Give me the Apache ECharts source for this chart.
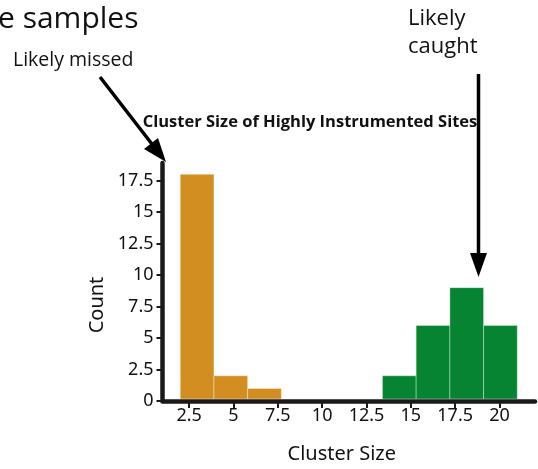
<!DOCTYPE html>
<html><head><meta charset="utf-8">
<script src="https://cdn.jsdelivr.net/npm/echarts@6/dist/echarts.min.js"></script>
<style>html,body{margin:0;padding:0;background:#fff}#c{width:538px;height:469px}</style>
</head><body><div id="c"></div>
<script>
const binStart = [2, 3.9, 5.8, 7.7, 9.6, 11.5, 13.4, 15.3, 17.2, 19.1];
const binEnd   = [3.9, 5.8, 7.7, 9.6, 11.5, 13.4, 15.3, 17.2, 19.1, 21];
const counts   = [18, 2, 1, 0, 0, 0, 2, 6, 9, 6];
const groups   = ['missed','missed','missed','missed','missed','missed','caught','caught','caught','caught'];
const xTicks = [2.5, 5, 7.5, 10, 12.5, 15, 17.5, 20];
const yTicks = [0, 2.5, 5, 7.5, 10, 12.5, 15, 17.5];
const groupColor = {missed: '#D38E22', caught: '#078431'};

const data = binStart.map((s, i) => [s, binEnd[i], counts[i], groups[i]]);
const chart = echarts.init(document.getElementById('c'), null, {renderer: 'canvas'});
const axisCol = '#1a1a1a';
const font = 'Noto Sans';
chart.setOption({
  animation: false,
  grid: {left: 162.5, right: 3, top: 163, bottom: 65, containLabel: false},
  title: {
    text: 'Cluster Size of Highly Instrumented Sites',
    left: 305, top: 109, textAlign: 'center',
    textStyle: {fontFamily: 'Open Sans', fontWeight: 'bold', fontSize: 16.5, color: '#111'}
  },
  xAxis: {
    type: 'value', min: 1, max: 22, z: 5,
    axisLine: {show: true, lineStyle: {color: axisCol, width: 4.5}},
    axisTick: {show: true, customValues: xTicks, length: 7, lineStyle: {color: axisCol, width: 2}},
    axisLabel: {customValues: xTicks, margin: 6, fontFamily: font, fontSize: 18, color: '#111'},
    splitLine: {show: false},
    name: 'Cluster Size', nameLocation: 'middle', nameGap: 43,
    nameTextStyle: {fontFamily: font, fontSize: 20, color: '#111', padding: [0, 14, 0, 0]}
  },
  yAxis: {
    type: 'value', min: 0, max: 18.9, z: 5,
    axisLine: {show: true, lineStyle: {color: axisCol, width: 4.5}},
    axisTick: {show: true, customValues: yTicks, length: 6, lineStyle: {color: axisCol, width: 2}},
    axisLabel: {customValues: yTicks, margin: 9, fontFamily: font, fontSize: 18, color: '#111'},
    splitLine: {show: false}
  },
  series: [{
    type: 'custom',
    z: 2,
    data: data,
    encode: {x: [0, 1], y: 2},
    renderItem: function (params, api) {
      if (api.value(2) <= 0) return null;
      const p0 = api.coord([api.value(0), api.value(2)]);
      const p1 = api.coord([api.value(1), 0]);
      const g = data[params.dataIndex][3];
      return {
        type: 'rect',
        shape: {x: p0[0], y: p0[1], width: p1[0] - p0[0], height: p1[1] - p0[1] - 2},
        style: {fill: groupColor[g], stroke: 'rgba(255,255,255,0.35)', lineWidth: 1}
      };
    }
  }],
  graphic: [
    {type: 'text', position: [-2, 4], style: {text: 'e samples', font: '30px "Open Sans"', fill: '#111'}},
    {type: 'text', position: [13, 50], style: {text: 'Likely missed', font: '19.5px "Open Sans"', fill: '#111'}},
    {type: 'text', position: [408, 8], style: {text: 'Likely', font: '22px "Open Sans"', fill: '#111'}},
    {type: 'text', position: [408, 36], style: {text: 'caught', font: '22px "Open Sans"', fill: '#111'}},
    {type: 'text', position: [97, 305], rotation: Math.PI / 2,
      style: {text: 'Count', font: '20px "Noto Sans"', fill: '#111', align: 'center', verticalAlign: 'middle'}},
    {type: 'line', shape: {x1: 100, y1: 77, x2: 155, y2: 148}, style: {stroke: '#000', lineWidth: 3.5}},
    {type: 'polygon', shape: {points: [[166, 162], [144, 149], [158, 138]]}, style: {fill: '#000'}},
    {type: 'line', shape: {x1: 478.5, y1: 74, x2: 478.5, y2: 256}, style: {stroke: '#000', lineWidth: 3.5}},
    {type: 'polygon', shape: {points: [[478.5, 277], [470, 253], [487, 253]]}, style: {fill: '#000'}}
  ]
});
</script></body></html>
